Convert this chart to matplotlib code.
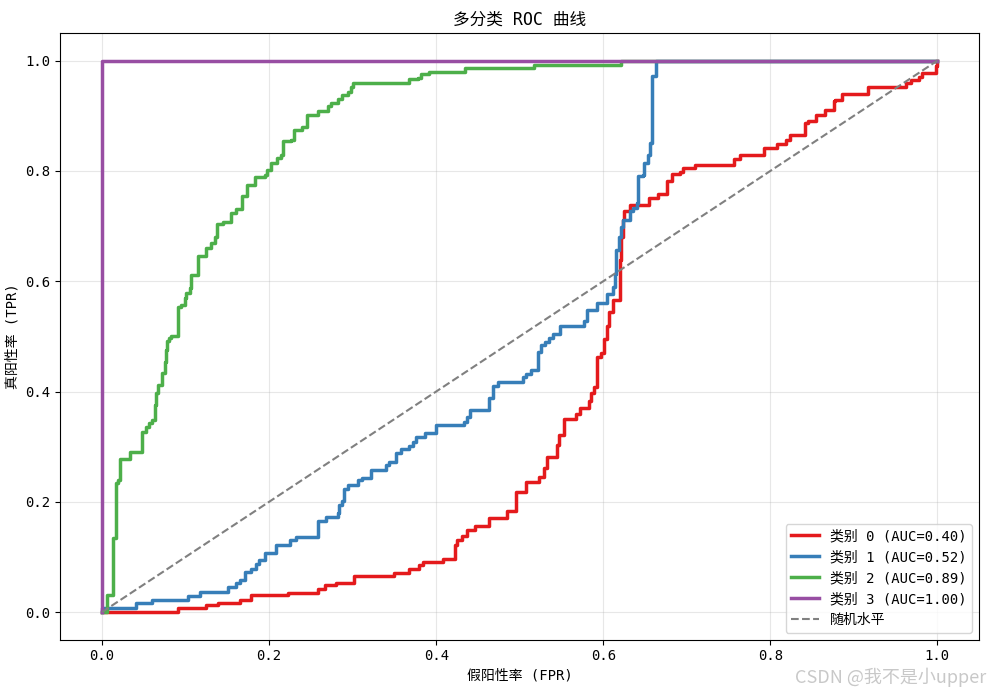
import matplotlib
matplotlib.use("Agg")
import matplotlib.pyplot as plt

# 黑体风格: 拉丁字母用等宽字体, 中文用 Noto
plt.rcParams['font.family'] = ['DejaVu Sans Mono', 'Noto Sans CJK SC']
plt.rcParams['axes.unicode_minus'] = False

# ROC 拐点 (fpr, tpr)
fpr0 = [0, 0.091, 0.125, 0.139, 0.165, 0.178, 0.222, 0.259, 0.267, 0.280, 0.302, 0.350, 0.368, 0.380,
        0.384, 0.408, 0.423, 0.425, 0.431, 0.437, 0.447, 0.463, 0.485, 0.495, 0.507, 0.523, 0.529, 0.533,
        0.545, 0.547, 0.553, 0.567, 0.572, 0.583, 0.585, 0.589, 0.592, 0.597, 0.601, 0.604, 0.607, 0.612,
        0.620, 0.621, 0.624, 0.625, 0.632, 0.655, 0.666, 0.676, 0.682, 0.692, 0.695, 0.710, 0.757, 0.764,
        0.792, 0.808, 0.819, 0.823, 0.841, 0.845, 0.855, 0.865, 0.876, 0.878, 0.886, 0.917, 0.963, 0.969,
        0.978, 0.982, 0.998, 1.0]
tpr0 = [0, 0.007, 0.013, 0.017, 0.022, 0.031, 0.035, 0.041, 0.049, 0.053, 0.065, 0.071, 0.079, 0.085,
        0.090, 0.097, 0.122, 0.131, 0.138, 0.148, 0.156, 0.170, 0.184, 0.218, 0.236, 0.245, 0.261, 0.282,
        0.303, 0.321, 0.350, 0.360, 0.371, 0.382, 0.397, 0.408, 0.463, 0.469, 0.495, 0.518, 0.545, 0.566,
        0.639, 0.681, 0.711, 0.727, 0.739, 0.751, 0.759, 0.781, 0.795, 0.799, 0.805, 0.811, 0.821, 0.829,
        0.842, 0.848, 0.856, 0.866, 0.887, 0.890, 0.902, 0.910, 0.926, 0.929, 0.940, 0.952, 0.959, 0.965,
        0.971, 0.977, 0.990, 1.0]

fpr1 = [0, 0, 0.040, 0.060, 0.103, 0.117, 0.151, 0.160, 0.165, 0.171, 0.178, 0.184, 0.188, 0.195, 0.208,
        0.225, 0.232, 0.258, 0.259, 0.268, 0.282, 0.284, 0.287, 0.290, 0.294, 0.306, 0.311, 0.322, 0.340,
        0.344, 0.352, 0.358, 0.368, 0.372, 0.376, 0.386, 0.400, 0.433, 0.437, 0.441, 0.463, 0.468, 0.474,
        0.504, 0.508, 0.513, 0.522, 0.525, 0.530, 0.535, 0.540, 0.548, 0.577, 0.580, 0.593, 0.604, 0.612,
        0.614, 0.615, 0.619, 0.621, 0.624, 0.632, 0.636, 0.640, 0.642, 0.648, 0.649, 0.654, 0.656, 0.658,
        0.663, 1.0]
tpr1 = [0, 0.007, 0.016, 0.022, 0.029, 0.037, 0.045, 0.052, 0.059, 0.073, 0.079, 0.088, 0.094, 0.107, 0.122,
        0.131, 0.137, 0.158, 0.166, 0.172, 0.179, 0.194, 0.202, 0.223, 0.230, 0.240, 0.244, 0.258, 0.267,
        0.273, 0.288, 0.295, 0.301, 0.309, 0.318, 0.324, 0.339, 0.345, 0.354, 0.367, 0.388, 0.410, 0.418,
        0.426, 0.432, 0.439, 0.472, 0.485, 0.489, 0.497, 0.505, 0.519, 0.527, 0.547, 0.561, 0.577, 0.590,
        0.614, 0.657, 0.681, 0.699, 0.711, 0.727, 0.733, 0.742, 0.790, 0.793, 0.814, 0.829, 0.850, 0.972,
        1.0, 1.0]

fpr2 = [0, 0.006, 0.013, 0.017, 0.019, 0.022, 0.033, 0.048, 0.052, 0.056, 0.060, 0.063, 0.064, 0.067,
        0.072, 0.075, 0.076, 0.078, 0.080, 0.082, 0.091, 0.095, 0.099, 0.101, 0.105, 0.107, 0.115, 0.125,
        0.130, 0.135, 0.138, 0.145, 0.154, 0.160, 0.167, 0.173, 0.183, 0.195, 0.198, 0.202, 0.209, 0.214,
        0.216, 0.226, 0.230, 0.239, 0.245, 0.259, 0.271, 0.274, 0.282, 0.287, 0.294, 0.298, 0.300, 0.368,
        0.378, 0.382, 0.391, 0.434, 0.517, 0.621, 1.0]
tpr2 = [0, 0.031, 0.134, 0.234, 0.240, 0.277, 0.290, 0.327, 0.336, 0.342, 0.348, 0.376, 0.397, 0.412,
        0.433, 0.454, 0.475, 0.491, 0.497, 0.500, 0.554, 0.557, 0.569, 0.578, 0.587, 0.612, 0.646, 0.660,
        0.669, 0.681, 0.704, 0.708, 0.724, 0.731, 0.754, 0.775, 0.789, 0.793, 0.802, 0.815, 0.823, 0.829,
        0.854, 0.857, 0.875, 0.880, 0.902, 0.908, 0.917, 0.923, 0.930, 0.938, 0.944, 0.953, 0.959, 0.966,
        0.969, 0.975, 0.980, 0.987, 0.993, 1.0, 1.0]

fpr3 = [0, 0, 1.0]
tpr3 = [0, 1.0, 1.0]

aucs = [0.40, 0.52, 0.89, 1.00]
colors = ['#e41a1c', '#377eb8', '#4daf4a', '#984ea3']

fprs = [fpr0, fpr1, fpr2, fpr3]
tprs = [tpr0, tpr1, tpr2, tpr3]

fig = plt.figure(figsize=(9.89, 6.9), dpi=100)
ax = fig.add_subplot(111)
fig.subplots_adjust(left=0.061, right=0.99, top=0.952, bottom=0.073)

for i in range(4):
    ax.plot(fprs[i], tprs[i], drawstyle='steps-post', color=colors[i], lw=2.5,
            label=f'类别 {i} (AUC={aucs[i]:.2f})')
ax.plot([0, 1], [0, 1], '--', color='gray', lw=1.5, label='随机水平')

ax.set_xlabel('假阳性率 (FPR)')
ax.set_ylabel('真阳性率 (TPR)')
ax.set_title('多分类 ROC 曲线', fontsize=12)
ax.grid(alpha=0.3)
ax.legend(loc='lower right')

fig.text(0.997, 0.004, 'CSDN @我不是小upper', ha='right', va='bottom', fontsize=13,
         color='#bbbbbb', alpha=0.8, family=['Noto Sans CJK SC', 'DejaVu Sans'])

fig.savefig('out.png', dpi=100)
